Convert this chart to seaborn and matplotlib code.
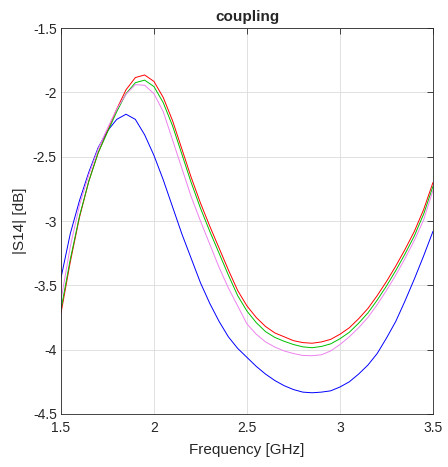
"""
Coupling |S14| versus frequency for four cases.
"""

# imports
import numpy as np
import pandas as pd
import matplotlib
matplotlib.use("Agg")
import matplotlib.pyplot as plt
import seaborn as sns

# data
freq = [1.50, 1.55, 1.60, 1.65, 1.70, 1.75, 1.80, 1.85, 1.90, 1.95,
        2.00, 2.05, 2.10, 2.15, 2.20, 2.25, 2.30, 2.35, 2.40, 2.45,
        2.50, 2.55, 2.60, 2.65, 2.70, 2.75, 2.80, 2.85, 2.90, 2.95,
        3.00, 3.05, 3.10, 3.15, 3.20, 3.25, 3.30, 3.35, 3.40, 3.45, 3.50]

s14_blue = [-3.445, -3.10, -2.84, -2.62, -2.43, -2.30, -2.21, -2.17, -2.21, -2.33,
            -2.49, -2.68, -2.89, -3.10, -3.29, -3.48, -3.64, -3.78, -3.90, -3.99,
            -4.06, -4.13, -4.19, -4.24, -4.28, -4.31, -4.33, -4.335, -4.33, -4.32,
            -4.29, -4.25, -4.19, -4.12, -4.03, -3.91, -3.78, -3.62, -3.45, -3.27, -3.08]

s14_red = [-3.72, -3.32, -2.97, -2.69, -2.47, -2.30, -2.13, -1.98, -1.885, -1.865,
           -1.915, -2.04, -2.22, -2.44, -2.66, -2.86, -3.04, -3.21, -3.38, -3.54,
           -3.66, -3.75, -3.82, -3.87, -3.90, -3.93, -3.945, -3.95, -3.94, -3.92,
           -3.88, -3.83, -3.76, -3.68, -3.58, -3.47, -3.35, -3.22, -3.08, -2.91, -2.70]

s14_green = [-3.69, -3.30, -2.96, -2.69, -2.47, -2.31, -2.15, -2.01, -1.925, -1.905,
             -1.955, -2.08, -2.26, -2.48, -2.70, -2.90, -3.08, -3.25, -3.42, -3.58,
             -3.70, -3.79, -3.86, -3.905, -3.935, -3.96, -3.978, -3.985, -3.975, -3.955,
             -3.915, -3.865, -3.795, -3.715, -3.615, -3.505, -3.385, -3.255, -3.115, -2.945, -2.73]

s14_magenta = [-3.62, -3.20, -2.875, -2.64, -2.44, -2.28, -2.13, -2.015, -1.94, -1.945,
               -2.01, -2.15, -2.37, -2.59, -2.81, -3.00, -3.18, -3.36, -3.52, -3.66,
               -3.80, -3.88, -3.94, -3.98, -4.01, -4.03, -4.045, -4.047, -4.04, -4.01,
               -3.96, -3.90, -3.83, -3.75, -3.65, -3.54, -3.42, -3.29, -3.15, -2.99, -2.76]

SERIES = {'blue': s14_blue, 'red': s14_red, 'green': s14_green, 'magenta': s14_magenta}
COLORS = {'blue': '#0000ff', 'red': '#ff0000', 'green': '#00c000', 'magenta': '#ee82ee'}


def main():
    # build long-form table
    df = pd.concat([pd.DataFrame({'freq': freq, 's14': vals, 'case': name})
                    for name, vals in SERIES.items()], ignore_index=True)

    # style
    sns.set_style('white')
    plt.rcParams['font.family'] = ['Liberation Sans', 'DejaVu Sans']

    fig = plt.figure(figsize=[4.48, 4.67], dpi=100)
    ax = fig.add_axes([0.136, 0.1135, 0.8305, 0.8265])

    sns.lineplot(data=df, x='freq', y='s14', hue='case', palette=COLORS,
                 linewidth=0.7, legend=False, ax=ax, sort=False)

    ax.set_xlim(1.5, 3.5)
    ax.set_ylim(-4.5, -1.5)
    ax.set_xticks(np.arange(1.5, 3.51, 0.5))
    ax.set_yticks(np.arange(-4.5, -1.49, 0.5))
    ax.set_xticklabels(['1.5', '2', '2.5', '3', '3.5'])
    ax.set_yticklabels(['-4.5', '-4', '-3.5', '-3', '-2.5', '-2', '-1.5'])

    ax.grid(True, color='#dcdcdc', linewidth=0.6)
    ax.set_axisbelow(True)
    for side in ax.spines.values():
        side.set_color('#262626')
        side.set_linewidth(0.6)
    ax.tick_params(direction='in', length=4, width=0.6, colors='#262626',
                   top=True, right=True, labelsize=10)
    ax.tick_params(axis='x', pad=5)
    ax.tick_params(axis='y', pad=3)

    ax.set_xlabel('Frequency [GHz]', fontsize=11, color='#262626', labelpad=6)
    ax.set_ylabel('|S14| [dB]', fontsize=11, color='#262626', labelpad=4)
    ax.set_title('coupling', fontsize=11, fontweight='bold', pad=5)

    fig.savefig('out.png', dpi=100)


if __name__ == "__main__":
    main()
